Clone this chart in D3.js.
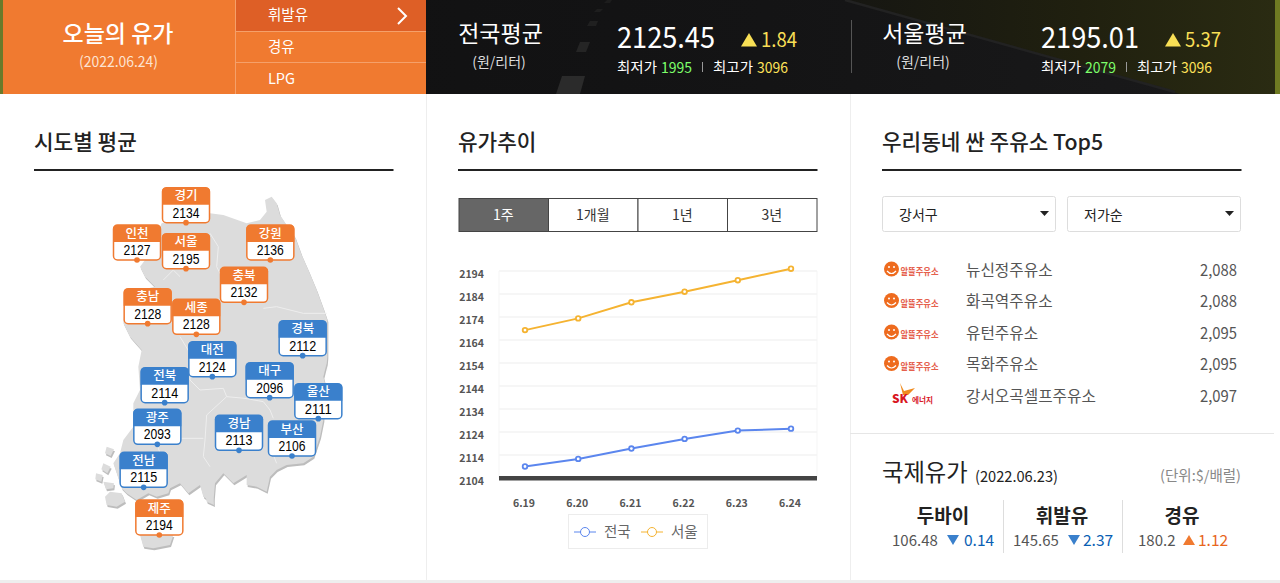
<!DOCTYPE html>
<html>
  <head>
    <meta charset="utf-8">
    <style>
      html, body { margin: 0; padding: 0; background: #fff; overflow: hidden; }
      svg { display: block; }
      text { font-family: "Noto Sans CJK KR", "Noto Sans", sans-serif; }
      .grid line { stroke: #f3f3f3; stroke-width: 1.5px; }
      .axis path, .axis line { display: none; }
      .axis text { font-size: 10.5px; font-weight: 700; fill: #555; }
      .line1 { fill: none; stroke: #5b86ee; stroke-width: 2px; }
      .line2 { fill: none; stroke: #f5b331; stroke-width: 2px; }
    </style>
  </head>
<body>
  <svg width="1280" height="583"></svg>
  <script src="https://d3js.org/d3.v7.min.js"></script>
  <script>
    // trend chart
    var dates = ["6.19", "6.20", "6.21", "6.22", "6.23", "6.24"];
    var nationalPrices = [2109, 2112.3, 2116.8, 2121, 2124.6, 2125.45];
    var seoulPrices = [2168.3, 2173.4, 2180.4, 2185, 2190, 2195.01];
    var yTicks = [2104, 2114, 2124, 2134, 2144, 2154, 2164, 2174, 2184, 2194];
    var tabs = ["1주", "1개월", "1년", "3년"];

    // province prices
    var regions = ["경기", "인천", "서울", "강원", "충북", "충남", "세종", "경북", "대전", "전북", "대구", "울산", "광주", "경남", "부산", "전남", "제주"];
    var regionPrices = [2134, 2127, 2195, 2136, 2132, 2128, 2128, 2112, 2124, 2114, 2096, 2111, 2093, 2113, 2106, 2115, 2194];
    var nationalAverage = 2125.45;

    // cheapest stations
    var stations = ["뉴신정주유소", "화곡역주유소", "유턴주유소", "목화주유소", "강서오곡셀프주유소"];
    var stationPrices = ["2,088", "2,088", "2,095", "2,095", "2,097"];
    var stationBrands = ["alddeul", "alddeul", "alddeul", "alddeul", "sk"];

    // world oil
    var oilNames = ["두바이", "휘발유", "경유"];
    var oilPrices = ["106.48", "145.65", "180.2"];
    var oilChanges = ["0.14", "2.37", "1.12"];
    var oilDirections = [-1, -1, 1];

    // map geometry is in units of 1/3 px, from the top-left corner of the map box
    var mapX = d3.scaleLinear().domain([0, 810]).range([90, 360]);
    var mapY = d3.scaleLinear().domain([0, 1140]).range([180, 560]);
    var regionPins = [[288,128],[141,240],[288,266],[541,240],[462,367],[173,431],[319,463],[638,527],[367,590],[224,668],[539,653],[685,716],[202,793],[447,811],[606,828],[161,922],[208,1065]];
    var landOutline = [[215,130],[300,110],[360,100],[400,105],[470,130],[510,120],[530,95],[525,60],[545,50],[560,70],[570,105],[590,135],[615,170],[635,225],[655,270],[680,330],[700,385],[712,420],[712,530],[708,575],[710,550],[700,590],[705,610],[700,720],[690,770],[670,830],[640,850],[590,855],[560,870],[540,890],[530,935],[500,920],[470,915],[470,885],[430,910],[400,880],[375,910],[370,970],[340,950],[330,915],[295,940],[270,910],[240,925],[235,940],[200,950],[175,940],[140,960],[110,940],[95,925],[70,850],[90,820],[100,780],[130,740],[130,670],[150,630],[145,560],[155,510],[120,470],[100,430],[105,380],[150,330],[195,320],[165,290],[150,260],[165,240]];
    var islands = [
      [[60,935],[95,940],[105,965],[80,980],[50,975],[45,950]],
      [[150,1065],[250,1065],[240,1095],[190,1105],[160,1100]],
      [[50,800],[72,808],[62,828],[45,820]],
      [[40,850],[62,860],[52,880],[34,868]],
      [[18,880],[38,885],[34,905],[16,898]],
      [[40,905],[72,910],[70,925],[48,928]],
      [[340,915],[365,920],[372,975],[350,965]]
    ];
    var borders = [
      [[300,600],[330,630],[400,625],[410,650],[350,705],[345,780],[340,830],[360,860]],
      [[410,650],[465,655],[520,665],[540,690],[550,715]],
      [[275,775],[340,775]],
      [[200,793],[215,830],[175,860]],
      [[520,385],[560,380],[640,400],[710,400]],
      [[360,160],[385,200],[380,260],[400,300]],
      [[220,300],[250,270],[270,290]],
      [[270,470],[300,520],[300,600]],
      [[560,850],[540,800],[555,740]]
    ];

    var svg = d3.select("svg");

    function label(parent, str, x, y, size, fill, opts) {
      opts = opts || {};
      var t = parent.append("text")
        .attr("x", x)
        .attr("y", y)
        .attr("fill", fill)
        .style("font-size", size + "px")
        .style("font-weight", opts.weight || 400)
        .style("text-anchor", opts.anchor || "start")
        .text(str);
      if (opts.width) {
        t.attr("textLength", opts.width).attr("lengthAdjust", "spacingAndGlyphs");
      }
      return t;
    }

    function triangle(parent, x, y, w, h, fill, up) {
      var pts = up
        ? [[x, y + h], [x + w, y + h], [x + w / 2, y]]
        : [[x, y], [x + w, y], [x + w / 2, y + h]];
      parent.append("polygon").attr("points", pts.join(" ")).attr("fill", fill);
    }

    // header photo strip
    var defs = svg.append("defs");
    var bg = defs.append("linearGradient").attr("id", "road").attr("x1", 0).attr("x2", 1).attr("y1", 0).attr("y2", 0);
    bg.append("stop").attr("offset", "0%").attr("stop-color", "#0f0f10");
    bg.append("stop").attr("offset", "60%").attr("stop-color", "#141415");
    bg.append("stop").attr("offset", "100%").attr("stop-color", "#1a1a1b");
    var grass = defs.append("linearGradient").attr("id", "grass").attr("x1", 0).attr("x2", 1).attr("y1", 0).attr("y2", 0);
    grass.append("stop").attr("offset", "0%").attr("stop-color", "#161612");
    grass.append("stop").attr("offset", "55%").attr("stop-color", "#20200f");
    grass.append("stop").attr("offset", "100%").attr("stop-color", "#2a2b12");

    var header = svg.append("g");
    header.append("rect").attr("width", 1280).attr("height", 94).attr("fill", "url(#road)");
    header.append("polygon").attr("points", "845,0 1275,0 1275,94 1180,94").attr("fill", "url(#grass)");
    header.append("line").attr("x1", 845).attr("y1", 0).attr("x2", 1175).attr("y2", 92).attr("stroke", "#222222").attr("stroke-width", 2.5);
    [[[607,0],[612,0],[610,3],[604,3],"#1d1d1d"], [[597,9],[603,9],[600,12],[594,12],"#1e1e1e"], [[590,21],[598,21],[596,26],[587,26],"#202020"], [[580,42],[590,42],[586,52],[576,52],"#252525"], [[562,76],[585,76],[580,94],[556,94],"#2b2b2b"]].forEach(function(d) {
      header.append("polygon").attr("points", d.slice(0, 4).join(" ")).attr("fill", d[4]);
    });
    header.append("rect").attr("x", 1275).attr("width", 5).attr("height", 94).attr("fill", "#6f7a22");
    header.append("rect").attr("width", 3).attr("height", 94).attr("fill", "#6a7a2a");

    header.append("rect").attr("x", 3).attr("width", 423).attr("height", 94).attr("fill", "#f07a30");
    header.append("rect").attr("x", 236).attr("width", 190).attr("height", 31).attr("fill", "#de5f26");
    header.append("line").attr("x1", 235.5).attr("x2", 235.5).attr("y1", 0).attr("y2", 94).attr("stroke", "#f5a06a");
    [31.5, 62.5].forEach(function(y) {
      header.append("line").attr("x1", 236).attr("x2", 426).attr("y1", y).attr("y2", y).attr("stroke", "#f5a06a");
    });
    header.append("polyline").attr("points", "398,8 406,16 398,24").attr("fill", "none").attr("stroke", "#fff").attr("stroke-width", 2);
    label(header, "오늘의 유가", 118, 42, 23, "#fff", {anchor: "middle", weight: 500});
    label(header, "(2022.06.24)", 118.5, 67, 14.5, "#fde3d2", {anchor: "middle", width: 79});
    label(header, "휘발유", 268, 20, 14.5, "#fff");
    label(header, "경유", 268, 52, 14.5, "#fff");
    label(header, "LPG", 268, 84, 14.5, "#fff");

    function summary(x, title, avg, delta, low, high) {
      var g = header.append("g").attr("transform", "translate(" + x + ",0)");
      label(g, title, 42.5, 42, 23, "#fff", {anchor: "middle"});
      label(g, "(원/리터)", 41, 67, 14, "#ddd", {anchor: "middle"});
      label(g, avg, 159, 48, 29, "#fff", {width: 98});
      triangle(g, 283, 33, 16, 13.5, "#f8df55", true);
      label(g, delta, 303, 47, 20, "#f8df55", {width: 36});
      label(g, "최저가", 159, 72, 14, "#fff", {width: 40});
      label(g, low, 203, 72.5, 15, "#7dff6a", {width: 31});
      g.append("line").attr("x1", 244.5).attr("x2", 244.5).attr("y1", 62).attr("y2", 72).attr("stroke", "#999");
      label(g, "최고가", 255, 72, 14, "#fff", {width: 40});
      label(g, high, 299, 72.5, 15, "#ffe259", {width: 31});
    }
    summary(458, "전국평균", "2125.45", "1.84", "1995", "3096");
    summary(882, "서울평균", "2195.01", "5.37", "2079", "3096");
    header.append("line").attr("x1", 851.5).attr("x2", 851.5).attr("y1", 20).attr("y2", 73).attr("stroke", "#555");

    // panel frame
    [426, 850].forEach(function(x) {
      svg.append("line").attr("x1", x + 0.5).attr("x2", x + 0.5).attr("y1", 94).attr("y2", 581).attr("stroke", "#eeeeee");
    });
    svg.append("line").attr("x1", 850).attr("x2", 1274).attr("y1", 433.5).attr("y2", 433.5).attr("stroke", "#e6e6e6");
    svg.append("line").attr("x1", 0).attr("x2", 1280).attr("y1", 581.5).attr("y2", 581.5).attr("stroke", "#eeeeee").attr("stroke-width", 3);

    [[34, "시도별 평균"], [458, "유가추이"], [882, "우리동네 싼 주유소 Top5"]].forEach(function(d) {
      label(svg, d[1], d[0], 150, 21.3, "#222", {weight: 500});
      svg.append("rect").attr("x", d[0]).attr("y", 169).attr("width", 359.5).attr("height", 2).attr("fill", "#222");
    });

    // map
    var mapLine = d3.line().x(function(d) { return mapX(d[0]); }).y(function(d) { return mapY(d[1]); }).curve(d3.curveLinearClosed);
    var mapOpen = d3.line().x(function(d) { return mapX(d[0]); }).y(function(d) { return mapY(d[1]); });
    var map = svg.append("g");
    [landOutline].concat(islands).forEach(function(shape) {
      map.append("path").attr("d", mapLine(shape)).attr("transform", "translate(1,2)").attr("fill", "#bdbdbd");
    });
    [landOutline].concat(islands).forEach(function(shape) {
      map.append("path").attr("d", mapLine(shape)).attr("fill", "#dcdcdc");
    });
    borders.forEach(function(b) {
      map.append("path").attr("d", mapOpen(b)).attr("fill", "none").attr("stroke", "#eeeeee").attr("stroke-width", 1);
    });

    var cards = map.selectAll("g.card")
      .data(regions)
      .enter().append("g")
      .attr("class", "card")
      .attr("transform", function(d, i) {
        return "translate(" + mapX(regionPins[i][0]) + "," + mapY(regionPins[i][1]) + ")";
      });
    function cardColor(i) {
      return regionPrices[i] >= nationalAverage ? "#f07a30" : "#3a80cc";
    }
    cards.append("rect").attr("x", -23.5).attr("y", -35).attr("width", 47).attr("height", 35).attr("rx", 4)
      .attr("fill", "#fff").attr("stroke", function(d, i) { return cardColor(i); }).attr("stroke-width", 1.5);
    cards.append("path")
      .attr("d", "M-24,-18 V-31 a4,4 0 0 1 4,-4 H20 a4,4 0 0 1 4,4 V-18 Z")
      .attr("fill", function(d, i) { return cardColor(i); });
    cards.append("circle").attr("r", 2.8).attr("fill", function(d, i) { return cardColor(i); });
    cards.append("text").attr("y", -22.5).style("text-anchor", "middle").style("font-size", "12.5px").style("font-weight", 500).attr("fill", "#fff").text(function(d) { return d; });
    cards.append("text").attr("y", -5).style("text-anchor", "middle").style("font-size", "14px").style("font-family", "'Liberation Sans', sans-serif").attr("fill", "#000")
      .attr("textLength", 27).attr("lengthAdjust", "spacingAndGlyphs")
      .text(function(d, i) { return regionPrices[i]; });

    // trend tabs
    var tabScale = d3.scaleBand().domain(tabs).range([458.5, 816.5]);
    var tabG = svg.append("g");
    tabG.selectAll("rect").data(tabs).enter().append("rect")
      .attr("x", function(d) { return tabScale(d) + 0.5; })
      .attr("y", 198.5)
      .attr("width", tabScale.bandwidth())
      .attr("height", 33)
      .attr("fill", function(d, i) { return i === 0 ? "#666" : "#fff"; })
      .attr("stroke", "#444");
    tabG.selectAll("text").data(tabs).enter().append("text")
      .attr("x", function(d) { return tabScale(d) + tabScale.bandwidth() / 2; })
      .attr("y", 220)
      .style("text-anchor", "middle")
      .style("font-size", "14px")
      .attr("fill", function(d, i) { return i === 0 ? "#fff" : "#333"; })
      .text(function(d) { return d; });

    // trend chart
    var x = d3.scalePoint().domain(dates).range([525, 791]);
    var y = d3.scaleLinear().domain([2104, 2194]).range([478, 271]);

    svg.append("g").attr("class", "grid").selectAll("line").data(yTicks).enter().append("line")
      .attr("x1", 499).attr("x2", 817)
      .attr("y1", function(d) { return y(d); })
      .attr("y2", function(d) { return y(d); });
    svg.append("path").attr("d", "M499,271V478M817,271V478").attr("stroke", "#f5f5f5").attr("fill", "none");
    svg.append("rect").attr("x", 499).attr("y", 476).attr("width", 318).attr("height", 4.5).attr("fill", "#444");

    svg.append("g").attr("class", "axis axis--y")
      .attr("transform", "translate(490,3.5)")
      .call(d3.axisLeft(y).tickValues(yTicks).tickFormat(d3.format("d")).tickSize(0).tickPadding(6));
    svg.append("g").attr("class", "axis axis--x")
      .attr("transform", "translate(-1.5,500)")
      .call(d3.axisBottom(x).tickSize(0).tickPadding(0));

    var line = d3.line()
      .x(function(d, i) { return x(dates[i]); })
      .y(function(d) { return y(d); });

    [[nationalPrices, "line1", "#5b86ee"], [seoulPrices, "line2", "#f5b331"]].forEach(function(s) {
      svg.append("path").datum(s[0]).attr("class", s[1]).attr("d", line);
      svg.append("g").selectAll("circle").data(s[0]).enter().append("circle")
        .attr("cx", function(d, i) { return x(dates[i]); })
        .attr("cy", function(d) { return y(d); })
        .attr("r", 2.3)
        .attr("fill", "#fff")
        .attr("stroke", s[2])
        .attr("stroke-width", 1.8);
    });

    // legend
    svg.append("rect").attr("x", 568.5).attr("y", 514.5).attr("width", 139).attr("height", 34).attr("fill", "#fff").attr("stroke", "#ececec");
    [[574, "전국", "#5b86ee"], [641, "서울", "#f5b331"]].forEach(function(d) {
      svg.append("line").attr("x1", d[0]).attr("x2", d[0] + 22).attr("y1", 532).attr("y2", 532).attr("stroke", d[2]);
      svg.append("circle").attr("cx", d[0] + 11).attr("cy", 532).attr("r", 4.5).attr("fill", "#fff").attr("stroke", d[2]);
      label(svg, d[1], d[0] + 30, 537, 14.5, "#666");
    });

    // station filters
    [[882, "강서구"], [1067, "저가순"]].forEach(function(d) {
      svg.append("rect").attr("x", d[0] + 0.5).attr("y", 196.5).attr("width", 173).attr("height", 35).attr("rx", 2).attr("fill", "#fff").attr("stroke", "#dddddd");
      label(svg, d[1], d[0] + 17, 220, 14, "#222");
      triangle(svg, d[0] + 158, 211, 9, 5, "#222", false);
    });

    // station list
    var rowY = d3.scalePoint().domain(stations).range([270, 396]);
    stations.forEach(function(name, i) {
      var cy = rowY(name);
      var g = svg.append("g").attr("transform", "translate(0," + cy + ")");
      if (stationBrands[i] === "alddeul") {
        g.append("circle").attr("cx", 891.5).attr("cy", -1).attr("r", 7.5).attr("fill", "#ee6b1e");
        g.append("path").attr("d", "M887,1 Q891.5,6 896,1").attr("fill", "none").attr("stroke", "#fff").attr("stroke-width", 1.2);
        g.append("circle").attr("cx", 889).attr("cy", -3).attr("r", 1).attr("fill", "#fff");
        g.append("circle").attr("cx", 894).attr("cy", -3).attr("r", 1).attr("fill", "#fff");
        label(g, "알뜰주유소", 900.5, 5, 9, "#e5604d", {weight: 700, width: 38});
      } else {
        g.append("polygon").attr("points", "900,-13 904,-5 915,-8 908,-1 903,-1").attr("fill", "#f08a1d");
        label(g, "SK", 892, 7, 12, "#d8161f", {weight: 900, width: 16});
        label(g, "에너지", 912, 7, 7.5, "#d8161f", {weight: 700, width: 21});
      }
      label(g, name, 966, 5.5, 15.7, "#555");
      label(g, stationPrices[i], 1200, 5.5, 16, "#555", {width: 37});
    });

    // world oil
    label(svg, "국제유가", 882, 481, 23.3, "#222");
    label(svg, "(2022.06.23)", 975, 482, 15, "#222", {width: 83});
    label(svg, "(단위:$/배럴)", 1241, 481, 14.5, "#888", {anchor: "end"});
    [1003, 1122].forEach(function(xp) {
      svg.append("line").attr("x1", xp + 0.5).attr("x2", xp + 0.5).attr("y1", 500).attr("y2", 553).attr("stroke", "#dddddd");
    });
    var oilCols = [[943, 892, 947, 964], [1062, 1013, 1068, 1083], [1182, 1138, 1183, 1198]];
    oilNames.forEach(function(name, i) {
      var c = oilCols[i];
      var color = oilDirections[i] > 0 ? "#e8661c" : "#0a5fb4";
      var tri = oilDirections[i] > 0 ? "#f07a30" : "#3a80cc";
      label(svg, name, c[0], 523, 19, "#222", {anchor: "middle", weight: 700});
      label(svg, oilPrices[i], c[1], 546, 15, "#555");
      triangle(svg, c[2], 535, 12, 10, tri, oilDirections[i] > 0);
      label(svg, oilChanges[i], c[3], 546, 15.5, color);
    });
  </script>
  </body>
</html>
